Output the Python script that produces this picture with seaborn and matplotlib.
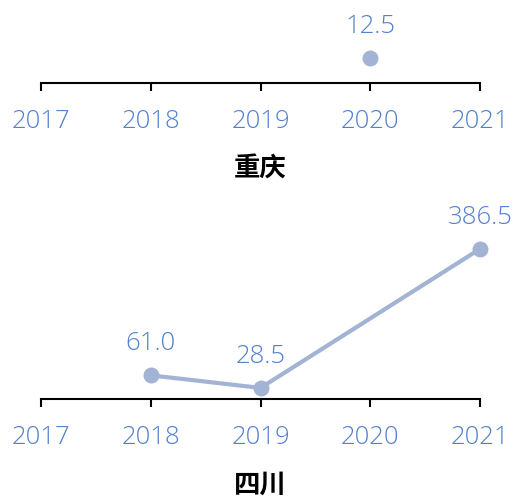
import numpy as np
import pandas as pd
import matplotlib
matplotlib.use("Agg")
import matplotlib.pyplot as plt
import seaborn as sns

years = [2017, 2018, 2019, 2020, 2021]
chongqing = [np.nan, np.nan, np.nan, 12.5, np.nan]
sichuan = [np.nan, 61.0, 28.5, np.nan, 386.5]
titles = ["重庆", "四川"]

sns.set_theme(style="white")
plt.rcParams["font.family"] = ["Noto Sans CJK SC", "DejaVu Sans"]

LINE_COLOR = "#a2b3d4"
TEXT_COLOR = "#5280cf"
NUM_FONT = ["Open Sans", "DejaVu Sans"]

W, H = 516, 499
fig = plt.figure(figsize=(W / 100, H / 100), dpi=100)

# axes boxes in pixels: (left, top, right, bottom)
boxes = [(41, 0, 480, 83), (41, 200, 480, 399)]
ylims = [(0, 41.0), (0, 512.5)]
series = [chongqing, sichuan]

for box, ylim, vals, title in zip(boxes, ylims, series, titles):
    l, t, r, b = box
    ax = fig.add_axes([l / W, 1 - b / H, (r - l) / W, (b - t) / H])
    df = pd.DataFrame({"year": years, "value": vals})
    sns.lineplot(data=df, x="year", y="value", ax=ax, color=LINE_COLOR,
                 linewidth=3, marker="o", markersize=11.5, markeredgewidth=0,
                 clip_on=False)
    for x, v in zip(years, vals):
        if not np.isnan(v):
            ax.annotate(f"{v:.1f}", (x, v), xytext=(0, 18),
                        textcoords="offset points", ha="center", va="baseline",
                        color=TEXT_COLOR, fontsize=18.5, family=NUM_FONT,
                        fontweight="light", annotation_clip=False)
    ax.set_xlim(years[0], years[-1])
    ax.set_ylim(*ylim)
    ax.set_xticks(years)
    ax.set_xticklabels([str(y) for y in years], color=TEXT_COLOR,
                       fontsize=18.5, family=NUM_FONT, fontweight="light")
    ax.set_yticks([])
    ax.set_xlabel(title, fontsize=19, fontweight="bold", color="black",
                  labelpad=16)
    ax.set_ylabel("")
    for s in ["top", "left", "right"]:
        ax.spines[s].set_visible(False)
    ax.spines["bottom"].set_color("black")
    ax.spines["bottom"].set_linewidth(1.5)
    ax.tick_params(axis="x", bottom=True, direction="out", length=6,
                   width=1.5, color="black", pad=12.5)
    ax.patch.set_alpha(0)

fig.savefig("out.png", dpi=100)
